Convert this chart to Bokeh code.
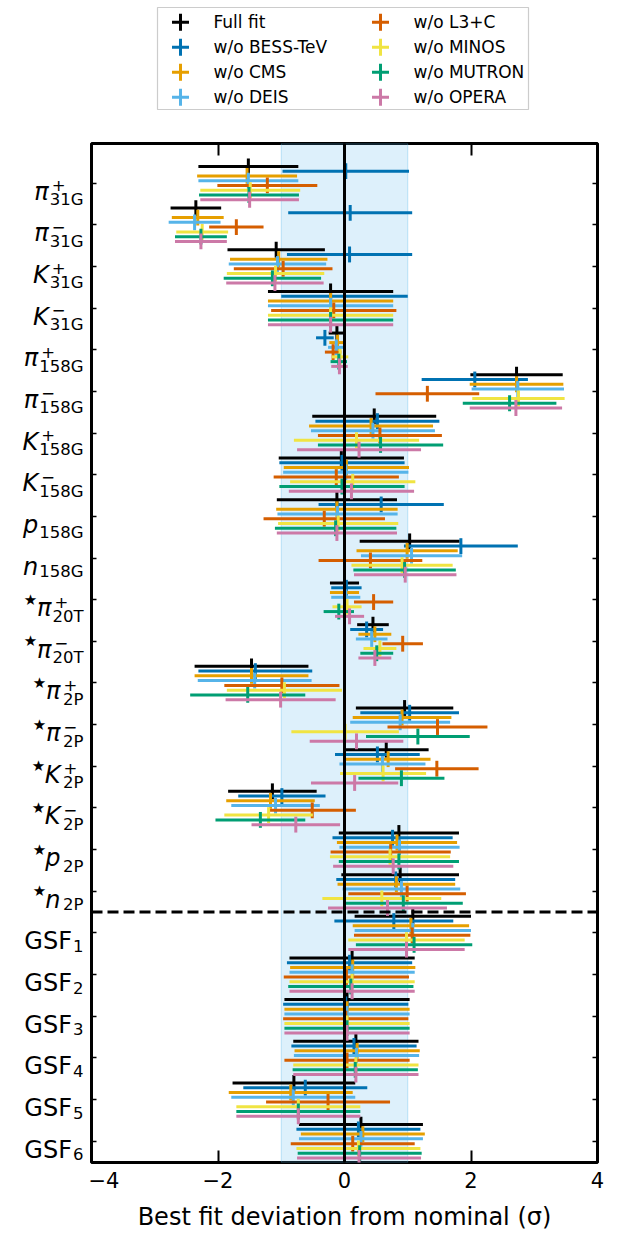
from bokeh.plotting import figure
from bokeh.models import Range1d, FixedTicker, LinearAxis, Span, BoxAnnotation
from bokeh.layouts import gridplot
from bokeh.core.properties import value
from bokeh.embed import file_html
from bokeh.resources import INLINE

FONT = "DejaVu Sans"

# ---------------- data ----------------
series_names = ["Full fit", "w/o BESS-TeV", "w/o CMS", "w/o DEIS",
                "w/o L3+C", "w/o MINOS", "w/o MUTRON", "w/o OPERA"]
series_colors = ["#000000", "#0072B2", "#E69F00", "#56B4E9",
                 "#D55E00", "#F0E442", "#009E73", "#CC79A7"]

label_star = ["", "", "", "", "", "", "", "", "", "",
              "★", "★", "★", "★", "★", "★", "★", "★",
              "", "", "", "", "", ""]
label_main = ["π", "π", "K", "K", "π", "π", "K", "K", "p", "n",
              "π", "π", "π", "π", "K", "K", "p", "n",
              "GSF", "GSF", "GSF", "GSF", "GSF", "GSF"]
label_sup = ["+", "−", "+", "−", "+", "−", "+", "−", "", "",
             "+", "−", "+", "−", "+", "−", "", "",
             "", "", "", "", "", ""]
label_sub = ["31G", "31G", "31G", "31G", "158G", "158G", "158G", "158G", "158G", "158G",
             "20T", "20T", "2P", "2P", "2P", "2P", "2P", "2P",
             "1", "2", "3", "4", "5", "6"]

val_full = [-1.52, -2.35, -1.08, -0.22, -0.12, 2.72, 0.47, -0.05, -0.12, 1.03, 0.00, 0.45,
            -1.47, 0.95, 0.66, -1.14, 0.86, 0.88, 1.08, 0.12, 0.04, 0.18, -0.80, 0.26]
err_full = [0.79, 0.40, 0.77, 0.99, 0.13, 0.73, 0.98, 0.99, 0.95, 0.79, 0.23, 0.25,
            0.90, 0.77, 0.67, 0.70, 0.95, 0.93, 0.92, 0.99, 0.99, 0.99, 0.97, 0.98]
val_bess = [0.02, 0.09, 0.08, 0.00, -0.31, 2.06, 0.52, -0.04, 0.58, 1.84, 0.03, 0.35,
            -1.41, 1.03, 0.52, -0.99, 0.76, 0.81, 0.78, 0.08, 0.02, 0.15, -0.62, 0.22]
err_bess = [1.00, 0.98, 0.99, 1.00, 0.14, 0.84, 0.98, 0.99, 0.99, 0.90, 0.24, 0.26,
            0.90, 0.78, 0.67, 0.69, 0.95, 0.94, 0.94, 0.99, 0.99, 0.99, 0.98, 0.98]
val_cms = [-1.54, -2.32, -1.04, -0.22, -0.11, 2.72, 0.42, 0.03, -0.12, 0.99, 0.00, 0.48,
           -1.47, 0.91, 0.69, -1.17, 0.83, 0.82, 1.05, 0.13, 0.04, 0.20, -0.85, 0.29]
err_cms = [0.79, 0.41, 0.77, 0.99, 0.13, 0.74, 0.98, 0.99, 0.96, 0.80, 0.23, 0.26,
           0.90, 0.78, 0.67, 0.70, 0.95, 0.93, 0.92, 0.99, 0.99, 0.99, 0.98, 0.98]
val_deis = [-1.52, -2.37, -1.06, -0.22, -0.13, 2.74, 0.45, 0.02, -0.11, 1.06, 0.02, 0.43,
            -1.42, 0.88, 0.60, -1.09, 0.87, 0.90, 1.08, 0.12, 0.04, 0.19, -0.81, 0.26]
err_deis = [0.79, 0.41, 0.77, 0.99, 0.13, 0.73, 0.98, 0.99, 0.95, 0.80, 0.23, 0.25,
            0.90, 0.79, 0.68, 0.70, 0.95, 0.93, 0.92, 0.99, 0.99, 0.99, 0.98, 0.98]
val_l3c = [-1.22, -1.71, -0.97, -0.17, -0.18, 1.31, 0.56, -0.13, -0.32, 0.41, 0.46, 0.92,
           -0.99, 1.47, 1.46, -0.51, 0.73, 0.99, 1.07, 0.03, 0.02, 0.04, -0.26, 0.13]
err_l3c = [0.79, 0.43, 0.78, 0.99, 0.13, 0.82, 0.98, 0.99, 0.96, 0.82, 0.31, 0.32,
           0.91, 0.79, 0.66, 0.69, 0.95, 0.93, 0.92, 0.99, 0.99, 0.99, 0.98, 0.98]
val_minos = [-1.49, -2.25, -1.09, -0.22, -0.07, 2.75, 0.19, 0.13, -0.10, 0.91, 0.04, 0.56,
             -0.95, 0.01, 0.61, -1.20, 0.72, 0.59, 0.98, 0.12, 0.04, 0.18, -0.73, 0.22]
err_minos = [0.79, 0.41, 0.77, 0.99, 0.13, 0.73, 0.99, 0.99, 0.95, 0.80, 0.23, 0.26,
             0.91, 0.85, 0.68, 0.70, 0.95, 0.94, 0.92, 0.99, 0.99, 0.99, 0.98, 0.98]
val_mutron = [-1.51, -2.27, -1.14, -0.22, -0.09, 2.61, 0.57, -0.04, -0.14, 0.95, -0.09, 0.51,
              -1.53, 1.16, 0.90, -1.33, 0.86, 0.93, 1.10, 0.10, 0.04, 0.17, -0.73, 0.24]
err_mutron = [0.79, 0.41, 0.77, 0.99, 0.13, 0.74, 0.99, 0.99, 0.96, 0.81, 0.24, 0.26,
              0.91, 0.82, 0.68, 0.71, 0.95, 0.94, 0.92, 0.99, 0.99, 0.99, 0.98, 0.98]
val_opera = [-1.50, -2.27, -1.10, -0.22, -0.08, 2.71, 0.23, 0.11, -0.12, 0.96, 0.08, 0.48,
             -1.01, 0.19, 0.16, -0.77, 0.77, 0.68, 0.98, 0.12, 0.04, 0.18, -0.73, 0.23]
err_opera = [0.78, 0.41, 0.77, 0.99, 0.13, 0.73, 0.98, 0.99, 0.95, 0.81, 0.23, 0.26,
             0.87, 0.74, 0.69, 0.70, 0.95, 0.94, 0.92, 0.99, 0.99, 0.99, 0.98, 0.98]

x_ticks = [-4, -2, 0, 2, 4]
x_tick_labels = ["−4", "−2", "0", "2", "4"]

all_vals = [val_full, val_bess, val_cms, val_deis, val_l3c, val_minos, val_mutron, val_opera]
all_errs = [err_full, err_bess, err_cms, err_deis, err_l3c, err_minos, err_mutron, err_opera]

n_rows = len(label_main)
row_y = [-i for i in range(n_rows)]

# ---------------- layout constants (pixels) ----------------
LAB_W = 88
P_LEFT = 3
FRAME_X0 = LAB_W + P_LEFT
FRAME_W = 506
FRAME_H = 1019
BORDER_R = 20
TOP_B = 23
BOT_B = 78
Y_LO = -(n_rows - 1) - 0.51
Y_HI = 0.95
PPU = FRAME_H / (Y_HI - Y_LO)

# ---------------- main figure ----------------
p = figure(frame_width=FRAME_W, frame_height=FRAME_H,
           x_range=Range1d(-4, 4), y_range=Range1d(Y_LO, Y_HI),
           min_border_left=P_LEFT, min_border_right=BORDER_R, min_border_top=TOP_B,
           min_border_bottom=BOT_B, output_backend="svg", toolbar_location=None)
p.background_fill_color = "white"
p.border_fill_color = "white"
p.outline_line_color = "black"
p.outline_line_width = 3
p.xgrid.visible = False
p.ygrid.visible = False

band = BoxAnnotation(left=-1, right=1, fill_color="#56B4E9", fill_alpha=0.2,
                     line_color="#56B4E9", line_alpha=0.35, line_width=1, level="underlay")
p.add_layout(band)

step = 0.8 / 7
vhalf = 0.19
for k, (vals, errs) in enumerate(zip(all_vals, all_errs)):
    ys = [y + 0.4 - k * step for y in row_y]
    lo = [v - e for v, e in zip(vals, errs)]
    hi = [v + e for v, e in zip(vals, errs)]
    p.segment(x0=lo, x1=hi, y0=ys, y1=ys, line_color=series_colors[k], line_width=3)
    p.segment(x0=vals, x1=vals, y0=[y - vhalf for y in ys], y1=[y + vhalf for y in ys],
              line_color=series_colors[k], line_width=3)

p.add_layout(Span(location=0, dimension="height", line_color="black", line_width=3))
p.add_layout(Span(location=-17.5, dimension="width", line_color="black",
                  line_width=3, line_dash="11 5"))

xt = FixedTicker(ticks=x_ticks)
yt = FixedTicker(ticks=row_y)

def style_x(ax, show):
    ax.ticker = xt
    ax.minor_tick_line_color = None
    ax.major_tick_in = 12
    ax.major_tick_out = 0
    ax.major_tick_line_width = 2
    ax.major_tick_line_color = "black"
    ax.axis_line_color = None
    ax.major_label_text_font = FONT
    ax.major_label_text_color = "black"
    if show:
        ax.major_label_overrides = {t: s for t, s in zip(x_ticks, x_tick_labels)}
        ax.major_label_text_font_size = "21px"
        ax.major_label_standoff = 9
    else:
        ax.major_label_overrides = {t: "" for t in x_ticks}
        ax.major_label_text_font_size = "1px"
        ax.major_label_standoff = 0

def style_y(ax):
    ax.ticker = yt
    ax.minor_tick_line_color = None
    ax.major_tick_in = 5
    ax.major_tick_out = 0
    ax.major_tick_line_width = 1.5
    ax.major_tick_line_color = "black"
    ax.axis_line_color = None
    ax.major_label_overrides = {t: "" for t in row_y}
    ax.major_label_text_font_size = "1px"
    ax.major_label_standoff = 0

style_x(p.xaxis[0], True)
p.xaxis[0].axis_label = "Best fit deviation from nominal (σ)"
p.xaxis[0].axis_label_text_font = FONT
p.xaxis[0].axis_label_text_font_size = "24px"
p.xaxis[0].axis_label_text_font_style = "normal"
p.xaxis[0].axis_label_text_color = "black"
p.xaxis[0].axis_label_standoff = 12
top_ax = LinearAxis()
style_x(top_ax, False)
p.add_layout(top_ax, "above")

style_y(p.yaxis[0])
right_ax = LinearAxis()
style_y(right_ax)
p.add_layout(right_ax, "right")

# ---------------- y label strip (x in page pixels) ----------------
ylab = figure(frame_width=LAB_W, frame_height=FRAME_H,
              x_range=Range1d(0, LAB_W), y_range=p.y_range,
              min_border_left=0, min_border_right=0, min_border_top=TOP_B,
              min_border_bottom=BOT_B, output_backend="svg", toolbar_location=None,
              x_axis_location=None, y_axis_location=None)
ylab.outline_line_color = None
ylab.grid.visible = False
ylab.background_fill_color = "white"
ylab.border_fill_color = "white"

MAIN_FS = 24
SUB_FS = 16.5
STAR_FS = 15
sub_w = {"0": 0.636, "1": 0.636, "2": 0.636, "3": 0.636, "4": 0.636, "5": 0.636,
         "6": 0.636, "7": 0.636, "8": 0.636, "9": 0.636, "G": 0.775, "T": 0.611, "P": 0.70}
main_w = {"π": 0.68, "K": 0.72, "p": 0.68, "n": 0.68, "GSF": 1.985}

RIGHT_EDGE = FRAME_X0 - 8

pieces = {"sub": ([], [], []), "sup": ([], [], []), "main_i": ([], [], []),
          "main_n": ([], [], []), "star": ([], [], [])}

for i in range(n_rows):
    y = row_y[i]
    sub = label_sub[i]
    w_sub = sum(sub_w[c] for c in sub) * SUB_FS
    has_sup = label_sup[i] != ""
    sub_left = RIGHT_EDGE - w_sub
    italic = label_main[i] != "GSF"
    base_px = 8.5
    sub_drop = 8.0 if (has_sup or label_main[i] == "p") else 4.5
    def add(key, xx, px_down, txt):
        pieces[key][0].append(xx)
        pieces[key][1].append(y - px_down / PPU)
        pieces[key][2].append(txt)
    add("sub", RIGHT_EDGE, base_px + sub_drop, sub)
    if has_sup:
        add("sup", sub_left + 2, base_px - 6.5, label_sup[i])
    main_right = sub_left - (1.0 if italic else 1)
    add("main_i" if italic else "main_n", main_right, base_px, label_main[i])
    if label_star[i]:
        w_main = main_w[label_main[i]] * MAIN_FS
        add("star", main_right - w_main + 2, 0.0, label_star[i])

styles = {"sub": (SUB_FS, "normal", "right"), "sup": (SUB_FS, "normal", "left"),
          "main_i": (MAIN_FS, "italic", "right"), "main_n": (MAIN_FS, "normal", "right"),
          "star": (STAR_FS, "normal", "right")}
for key, (xs, ys, ts) in pieces.items():
    fs, fst, al = styles[key]
    ylab.text(x=xs, y=ys, text=ts, text_font=value(FONT), text_font_size=f"{fs}px",
              text_font_style=fst, text_align=al, text_baseline="alphabetic",
              text_color="black")

# ---------------- legend figure (page-pixel coordinates) ----------------
lg = figure(frame_width=FRAME_W, frame_height=120,
            x_range=Range1d(FRAME_X0, FRAME_X0 + FRAME_W), y_range=Range1d(120, 0),
            min_border_left=P_LEFT, min_border_right=BORDER_R,
            min_border_top=0, min_border_bottom=0,
            output_backend="svg", toolbar_location=None,
            x_axis_location=None, y_axis_location=None)
lg.outline_line_color = None
lg.grid.visible = False
lg.background_fill_color = "white"
lg.border_fill_color = "white"
lg.quad(left=157, right=528, top=7, bottom=109, fill_color="white",
        line_color="#cccccc", line_width=1.2)
for k, name in enumerate(series_names):
    col, row = k // 4, k % 4
    gx = 180 + 200 * col
    gy = 21.7 + 25 * row
    lg.scatter(x=[gx], y=[gy], marker="cross", size=17, line_width=3,
               line_color=series_colors[k])
    lg.text(x=[gx + 33], y=[gy], text=[name], text_font=value(FONT), text_font_size="17px",
            text_baseline="middle", text_align="left", text_color="black")

grid = gridplot([[None, lg], [ylab, p]], toolbar_location=None)
open("out.html", "w").write(file_html(grid, INLINE))
